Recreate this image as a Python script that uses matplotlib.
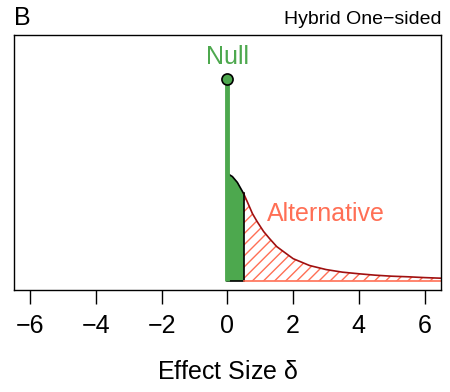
import matplotlib.pyplot as plt
import numpy as np

plt.rcParams['font.family'] = ['Liberation Sans', 'DejaVu Sans']
plt.rcParams['hatch.linewidth'] = 1.0

# prior for the alternative, spike height of the null = 1
delta = [0, 0.15, 0.3, 0.49, 0.6, 0.76, 0.9, 1.0, 1.1, 1.28, 1.5, 1.79, 2.0,
         2.5, 3.0, 3.5, 4.0, 4.5, 5.0, 5.5, 6.0, 6.5]
dens = [0.532, 0.517, 0.488, 0.433, 0.393, 0.333, 0.294, 0.269, 0.244, 0.209,
        0.169, 0.134, 0.109, 0.075, 0.055, 0.042, 0.034, 0.027, 0.022, 0.019,
        0.015, 0.012]
null_height = 1.0
cut = 0.49
ticks = [-6, -4, -2, 0, 2, 4, 6]

green = '#4DA84E'
salmon = '#FF6F55'

fig = plt.figure(figsize=(4.5, 3.92), dpi=100)
ax = fig.add_axes([0.031, 0.26, 0.949, 0.651])

d = np.array(delta)
y = np.array(dens)
y_cut = np.interp(cut, d, y)
left = d < cut
dl = np.append(d[left], cut)
yl = np.append(y[left], y_cut)
dr = np.insert(d[~left], 0, cut)
yr = np.insert(y[~left], 0, y_cut)

ax.fill_between(dl, 0, yl, color=green, lw=0)
ax.fill_between(dr, 0, yr, facecolor='none', edgecolor=salmon, hatch='///', lw=0)
ax.plot(dl, yl, color='black', lw=1.2)
ax.plot(dr, yr, color='#A01010', lw=1.2)
ax.plot([cut, cut], [0, y_cut], color='black', lw=1.2)
ax.plot([0, cut], [0, 0], color='black', lw=1.2)
ax.plot([cut, 6.5], [0, 0], color=salmon, lw=1.2)

ax.plot([0, 0], [0, null_height], color=green, lw=3.5, solid_capstyle='butt')
ax.plot(0, null_height, 'o', ms=8, mfc=green, mec='black', mew=1.2)

ax.text(0, 1.11, 'Null', color=green, fontsize=18, ha='center', va='center')
ax.text(3.0, 0.33, 'Alternative', color=salmon, fontsize=18, ha='center', va='center')

ax.set_xlim(-6.5, 6.5)
ax.set_ylim(-0.047, 1.174 + 0.047)
ax.set_yticks([])
ax.set_xticks(ticks)
ax.set_xticklabels(['\u2212' + str(-t) if t < 0 else str(t) for t in ticks], fontsize=18)
ax.tick_params(axis='x', direction='out', length=10, width=1, pad=7)
for s in ax.spines.values():
    s.set_linewidth(1.0)

fig.text(14 / 450, 1 - 18 / 392, 'B', fontsize=18, ha='left', va='center')
fig.text(441 / 450, 1 - 19 / 392, 'Hybrid One\u2212sided', fontsize=14, ha='right', va='center')
fig.text(228 / 450, 1 - 372 / 392, 'Effect Size $\\mathregular{\\delta}$', fontsize=18,
         ha='center', va='center')

fig.savefig('out.png', dpi=100)
